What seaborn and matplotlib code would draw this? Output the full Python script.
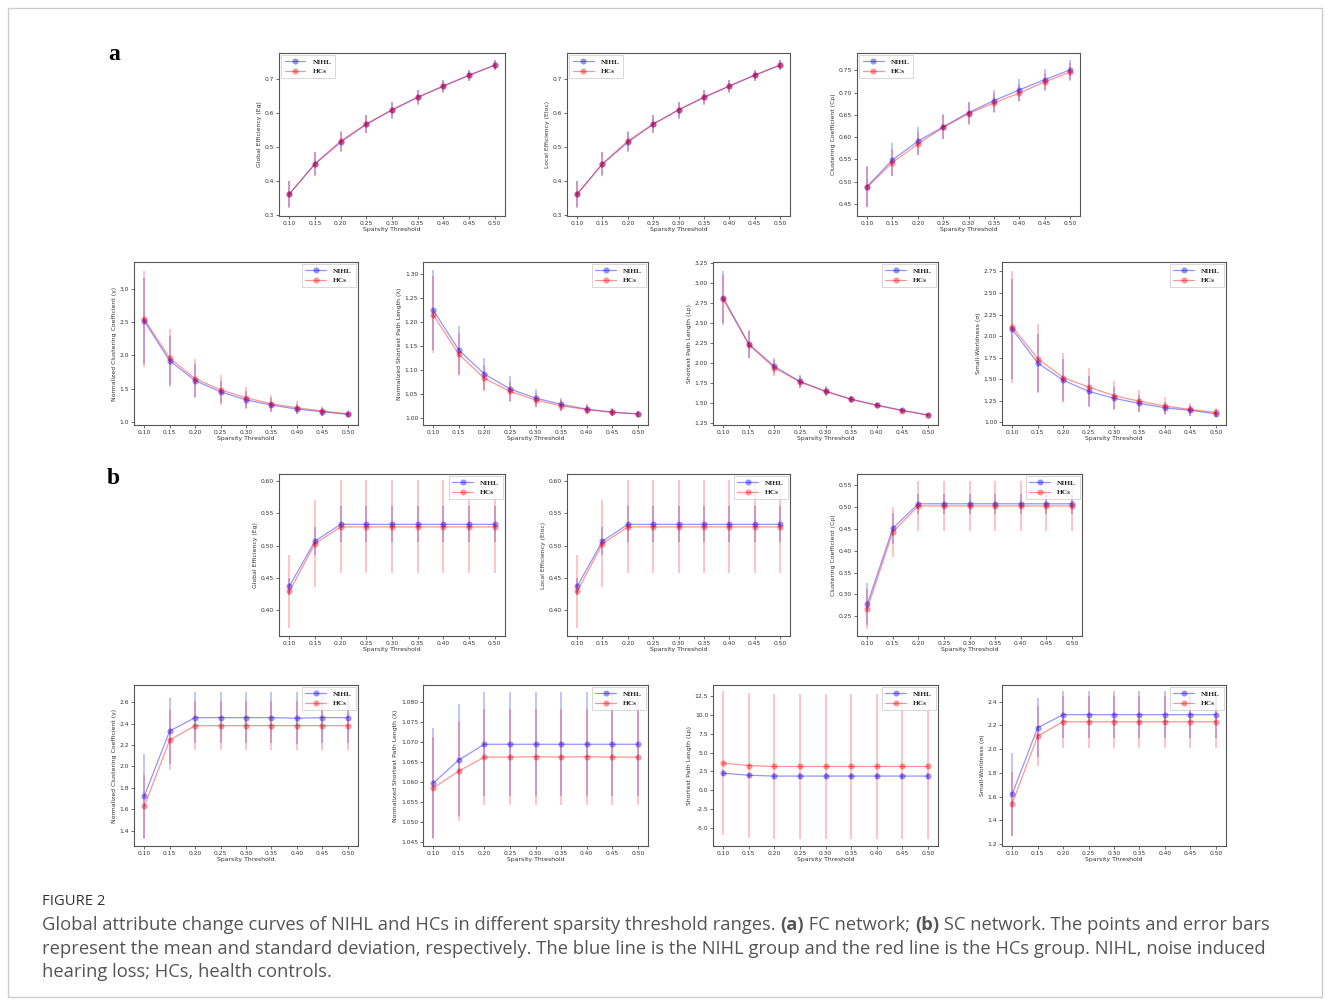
import numpy as np
import pandas as pd
import matplotlib
matplotlib.use("Agg")
import matplotlib.pyplot as plt
import seaborn as sns
from matplotlib.patches import Rectangle
from matplotlib.ticker import FormatStrFormatter

thresholds = [0.10, 0.15, 0.20, 0.25, 0.30, 0.35, 0.40, 0.45, 0.50]

# ---- (a) FC network ----
fc_eg_nihl = [0.360, 0.449, 0.513, 0.566, 0.608, 0.645, 0.678, 0.710, 0.740]
fc_eg_nihl_sd = [0.040, 0.035, 0.030, 0.027, 0.025, 0.021, 0.019, 0.016, 0.014]
fc_eg_hcs = [0.361, 0.450, 0.517, 0.567, 0.609, 0.646, 0.679, 0.711, 0.740]
fc_eg_hcs_sd = [0.038, 0.034, 0.030, 0.026, 0.024, 0.020, 0.018, 0.016, 0.014]

fc_eloc_nihl = [0.360, 0.449, 0.513, 0.566, 0.608, 0.645, 0.678, 0.710, 0.740]
fc_eloc_nihl_sd = [0.040, 0.035, 0.030, 0.027, 0.025, 0.021, 0.019, 0.016, 0.014]
fc_eloc_hcs = [0.361, 0.450, 0.517, 0.567, 0.609, 0.646, 0.679, 0.711, 0.740]
fc_eloc_hcs_sd = [0.038, 0.034, 0.030, 0.026, 0.024, 0.020, 0.018, 0.016, 0.014]

fc_cp_nihl = [0.489, 0.549, 0.591, 0.623, 0.655, 0.682, 0.706, 0.729, 0.751]
fc_cp_nihl_sd = [0.046, 0.037, 0.031, 0.028, 0.025, 0.025, 0.024, 0.023, 0.022]
fc_cp_hcs = [0.488, 0.543, 0.585, 0.622, 0.653, 0.677, 0.699, 0.724, 0.746]
fc_cp_hcs_sd = [0.045, 0.030, 0.026, 0.027, 0.025, 0.022, 0.021, 0.021, 0.020]

fc_gamma_nihl = [2.52, 1.92, 1.62, 1.45, 1.33, 1.25, 1.19, 1.15, 1.11]
fc_gamma_nihl_sd = [0.65, 0.37, 0.25, 0.17, 0.13, 0.10, 0.08, 0.06, 0.04]
fc_gamma_hcs = [2.55, 1.96, 1.65, 1.48, 1.36, 1.27, 1.21, 1.16, 1.12]
fc_gamma_hcs_sd = [0.72, 0.44, 0.30, 0.23, 0.17, 0.13, 0.10, 0.07, 0.05]

fc_lambda_nihl = [1.225, 1.142, 1.092, 1.061, 1.042, 1.029, 1.019, 1.013, 1.009]
fc_lambda_nihl_sd = [0.083, 0.050, 0.034, 0.027, 0.018, 0.013, 0.010, 0.008, 0.006]
fc_lambda_hcs = [1.215, 1.133, 1.083, 1.056, 1.038, 1.026, 1.018, 1.012, 1.009]
fc_lambda_hcs_sd = [0.080, 0.045, 0.027, 0.020, 0.015, 0.011, 0.010, 0.008, 0.006]

fc_lp_nihl = [2.82, 2.24, 1.96, 1.77, 1.65, 1.55, 1.475, 1.41, 1.35]
fc_lp_nihl_sd = [0.34, 0.17, 0.10, 0.08, 0.06, 0.04, 0.03, 0.025, 0.015]
fc_lp_hcs = [2.80, 2.23, 1.94, 1.765, 1.645, 1.545, 1.47, 1.405, 1.35]
fc_lp_hcs_sd = [0.30, 0.17, 0.10, 0.08, 0.06, 0.04, 0.03, 0.025, 0.015]

fc_sigma_nihl = [2.08, 1.69, 1.49, 1.36, 1.28, 1.22, 1.17, 1.14, 1.10]
fc_sigma_nihl_sd = [0.58, 0.34, 0.24, 0.18, 0.13, 0.10, 0.07, 0.06, 0.04]
fc_sigma_hcs = [2.11, 1.74, 1.52, 1.41, 1.31, 1.245, 1.19, 1.15, 1.115]
fc_sigma_hcs_sd = [0.65, 0.40, 0.29, 0.22, 0.17, 0.13, 0.10, 0.07, 0.05]

# ---- (b) SC network ----
sc_eg_nihl = [0.437, 0.507, 0.533, 0.533, 0.533, 0.533, 0.533, 0.533, 0.533]
sc_eg_nihl_sd = [0.013, 0.022, 0.028, 0.028, 0.028, 0.028, 0.028, 0.028, 0.028]
sc_eg_hcs = [0.429, 0.503, 0.529, 0.529, 0.529, 0.529, 0.529, 0.529, 0.529]
sc_eg_hcs_sd = [0.057, 0.067, 0.072, 0.072, 0.072, 0.072, 0.072, 0.072, 0.072]

sc_eloc_nihl = [0.437, 0.507, 0.533, 0.533, 0.533, 0.533, 0.533, 0.533, 0.533]
sc_eloc_nihl_sd = [0.013, 0.022, 0.028, 0.028, 0.028, 0.028, 0.028, 0.028, 0.028]
sc_eloc_hcs = [0.429, 0.503, 0.529, 0.529, 0.529, 0.529, 0.529, 0.529, 0.529]
sc_eloc_hcs_sd = [0.057, 0.067, 0.072, 0.072, 0.072, 0.072, 0.072, 0.072, 0.072]

sc_cp_nihl = [0.277, 0.451, 0.507, 0.507, 0.507, 0.507, 0.507, 0.507, 0.507]
sc_cp_nihl_sd = [0.048, 0.035, 0.023, 0.023, 0.023, 0.023, 0.023, 0.023, 0.023]
sc_cp_hcs = [0.267, 0.443, 0.502, 0.502, 0.502, 0.502, 0.502, 0.502, 0.502]
sc_cp_hcs_sd = [0.045, 0.057, 0.058, 0.058, 0.058, 0.058, 0.058, 0.058, 0.058]

sc_gamma_nihl = [1.72, 2.33, 2.455, 2.455, 2.455, 2.455, 2.45, 2.455, 2.455]
sc_gamma_nihl_sd = [0.40, 0.31, 0.24, 0.24, 0.24, 0.24, 0.24, 0.24, 0.24]
sc_gamma_hcs = [1.625, 2.245, 2.38, 2.38, 2.38, 2.38, 2.38, 2.38, 2.38]
sc_gamma_hcs_sd = [0.29, 0.28, 0.23, 0.23, 0.23, 0.23, 0.23, 0.23, 0.23]

sc_lambda_nihl = [1.0598, 1.0656, 1.0695, 1.0695, 1.0695, 1.0695, 1.0695, 1.0695, 1.0695]
sc_lambda_nihl_sd = [0.0137, 0.0140, 0.0130, 0.0130, 0.0130, 0.0130, 0.0130, 0.0130, 0.0130]
sc_lambda_hcs = [1.0586, 1.0628, 1.0663, 1.0663, 1.0664, 1.0663, 1.0664, 1.0663, 1.0663]
sc_lambda_hcs_sd = [0.0128, 0.0125, 0.0120, 0.0120, 0.0120, 0.0120, 0.0120, 0.0120, 0.0120]

sc_lp_nihl = [2.25, 1.98, 1.87, 1.87, 1.87, 1.87, 1.87, 1.87, 1.87]
sc_lp_nihl_sd = [0.40, 0.35, 0.35, 0.35, 0.35, 0.35, 0.35, 0.35, 0.35]
sc_lp_hcs = [3.60, 3.27, 3.15, 3.15, 3.15, 3.15, 3.15, 3.15, 3.15]
sc_lp_hcs_sd = [9.65, 9.70, 9.70, 9.70, 9.70, 9.70, 9.70, 9.70, 9.70]

sc_sigma_nihl = [1.62, 2.18, 2.29, 2.29, 2.29, 2.29, 2.29, 2.29, 2.29]
sc_sigma_nihl_sd = [0.35, 0.25, 0.20, 0.20, 0.20, 0.20, 0.20, 0.20, 0.20]
sc_sigma_hcs = [1.54, 2.11, 2.23, 2.23, 2.23, 2.23, 2.23, 2.23, 2.23]
sc_sigma_hcs_sd = [0.27, 0.25, 0.22, 0.22, 0.22, 0.22, 0.22, 0.22, 0.22]

W, H = 1330, 1005
fig = plt.figure(figsize=(W / 100, H / 100), dpi=100)
sns.set_style("white")
plt.rcParams['font.family'] = ['DejaVu Sans']

serif = ['Liberation Serif', 'DejaVu Serif']


def px_axes(left, top, right, bottom):
    return fig.add_axes([left / W, 1 - bottom / H, (right - left) / W, (bottom - top) / H])


def panel(rect, nihl, nihl_sd, hcs, hcs_sd, ylabel, ylim, yticks, fmt, loc):
    ax = px_axes(*rect)
    df = pd.DataFrame({
        'threshold': thresholds * 2,
        'value': list(nihl) + list(hcs),
        'group': ['NIHL'] * len(thresholds) + ['HCs'] * len(thresholds),
    })
    pal = {'NIHL': 'blue', 'HCs': 'red'}
    sns.lineplot(data=df, x='threshold', y='value', hue='group', palette=pal,
                 marker='o', markersize=4.4, markeredgewidth=0, linewidth=0.9,
                 alpha=0.42, errorbar=None, ax=ax)
    for name, m, sd in [('NIHL', nihl, nihl_sd), ('HCs', hcs, hcs_sd)]:
        ax.errorbar(thresholds, m, yerr=sd, fmt='none', ecolor=pal[name],
                    elinewidth=1.1, alpha=0.3, capsize=0)
    ax.set_xticks(thresholds)
    ax.xaxis.set_major_formatter(FormatStrFormatter('%.2f'))
    ax.set_yticks(yticks)
    ax.yaxis.set_major_formatter(FormatStrFormatter(fmt))
    ax.set_ylim(*ylim)
    ax.set_xlim(0.08, 0.52)
    ax.set_xlabel('Sparsity Threshold', fontsize=4.4, color='#333333', labelpad=1)
    ax.set_ylabel(ylabel, fontsize=4.4, color='#333333', labelpad=2)
    ax.tick_params(labelsize=4.3, length=2, width=0.5, pad=1.5, colors='#333333',
                   left=True, bottom=True)
    for s in ax.spines.values():
        s.set_color('#555555')
        s.set_linewidth(0.8)
    leg = ax.legend(loc=loc, prop={'family': serif, 'weight': 'bold', 'size': 5.3},
                    handlelength=2.8, handletextpad=1.0, borderpad=0.5, labelspacing=0.4,
                    borderaxespad=0.3, frameon=True, fancybox=False)
    leg.get_frame().set_edgecolor('#bbbbbb')
    leg.get_frame().set_linewidth(0.5)
    return ax


# row 1 (a)
panel((279, 53, 505, 216), fc_eg_nihl, fc_eg_nihl_sd, fc_eg_hcs, fc_eg_hcs_sd,
      'Global Efficiency (Eg)', (0.296, 0.776), [0.3, 0.4, 0.5, 0.6, 0.7], '%.1f', 'upper left')
panel((567, 53, 790, 216), fc_eloc_nihl, fc_eloc_nihl_sd, fc_eloc_hcs, fc_eloc_hcs_sd,
      'Local Efficiency (Eloc)', (0.296, 0.776), [0.3, 0.4, 0.5, 0.6, 0.7], '%.1f', 'upper left')
panel((857, 53, 1080, 216), fc_cp_nihl, fc_cp_nihl_sd, fc_cp_hcs, fc_cp_hcs_sd,
      'Clustering Coefficient (Cp)', (0.423, 0.789), [0.45, 0.50, 0.55, 0.60, 0.65, 0.70, 0.75], '%.2f', 'upper left')
# row 2 (a)
panel((134, 262, 358, 425), fc_gamma_nihl, fc_gamma_nihl_sd, fc_gamma_hcs, fc_gamma_hcs_sd,
      'Normalized Clustering Coefficient (γ)', (0.95, 3.41), [1.0, 1.5, 2.0, 2.5, 3.0], '%.1f', 'upper right')
panel((423, 262, 648, 425), fc_lambda_nihl, fc_lambda_nihl_sd, fc_lambda_hcs, fc_lambda_hcs_sd,
      'Normalized Shortest Path Length (λ)', (0.986, 1.325), [1.00, 1.05, 1.10, 1.15, 1.20, 1.25, 1.30], '%.2f', 'upper right')
panel((713, 262, 938, 425), fc_lp_nihl, fc_lp_nihl_sd, fc_lp_hcs, fc_lp_hcs_sd,
      'Shortest Path Length (Lp)', (1.225, 3.267), [1.25, 1.5, 1.75, 2.0, 2.25, 2.5, 2.75, 3.0, 3.25], '%.2f', 'upper right')
panel((1002, 262, 1226, 425), fc_sigma_nihl, fc_sigma_nihl_sd, fc_sigma_hcs, fc_sigma_hcs_sd,
      'Small-Worldness (σ)', (0.97, 2.86), [1.0, 1.25, 1.5, 1.75, 2.0, 2.25, 2.5, 2.75], '%.2f', 'upper right')
# row 3 (b)
panel((279, 474, 505, 636), sc_eg_nihl, sc_eg_nihl_sd, sc_eg_hcs, sc_eg_hcs_sd,
      'Global Efficiency (Eg)', (0.36, 0.611), [0.40, 0.45, 0.50, 0.55, 0.60], '%.2f', 'upper right')
panel((567, 474, 790, 636), sc_eloc_nihl, sc_eloc_nihl_sd, sc_eloc_hcs, sc_eloc_hcs_sd,
      'Local Efficiency (Eloc)', (0.36, 0.611), [0.40, 0.45, 0.50, 0.55, 0.60], '%.2f', 'upper right')
panel((857, 474, 1082, 636), sc_cp_nihl, sc_cp_nihl_sd, sc_cp_hcs, sc_cp_hcs_sd,
      'Clustering Coefficient (Cp)', (0.205, 0.575), [0.25, 0.30, 0.35, 0.40, 0.45, 0.50, 0.55], '%.2f', 'upper right')
# row 4 (b)
panel((134, 685, 358, 846), sc_gamma_nihl, sc_gamma_nihl_sd, sc_gamma_hcs, sc_gamma_hcs_sd,
      'Normalized Clustering Coefficient (γ)', (1.256, 2.76), [1.4, 1.6, 1.8, 2.0, 2.2, 2.4, 2.6], '%.1f', 'upper right')
panel((423, 685, 648, 846), sc_lambda_nihl, sc_lambda_nihl_sd, sc_lambda_hcs, sc_lambda_hcs_sd,
      'Normalized Shortest Path Length (λ)', (1.0441, 1.0843),
      [1.045, 1.050, 1.055, 1.060, 1.065, 1.070, 1.075, 1.080], '%.3f', 'upper right')
panel((713, 685, 938, 846), sc_lp_nihl, sc_lp_nihl_sd, sc_lp_hcs, sc_lp_hcs_sd,
      'Shortest Path Length (Lp)', (-7.46, 14.02), [-5.0, -2.5, 0.0, 2.5, 5.0, 7.5, 10.0, 12.5], '%.1f', 'upper right')
panel((1002, 685, 1226, 846), sc_sigma_nihl, sc_sigma_nihl_sd, sc_sigma_hcs, sc_sigma_hcs_sd,
      'Small-Worldness (σ)', (1.183, 2.54), [1.2, 1.4, 1.6, 1.8, 2.0, 2.2, 2.4], '%.1f', 'upper right')

# panel letters
fig.text(108 / W, 1 - 60 / H, 'a', family=serif, weight='bold', fontsize=17, color='black')
fig.text(107 / W, 1 - 484 / H, 'b', family=serif, weight='bold', fontsize=17, color='black')

# outer frame
fig.patches.append(Rectangle((8 / W, 1 - 997 / H), (1322 - 8) / W, (997 - 8) / H,
                             transform=fig.transFigure, fill=False,
                             edgecolor='#cccccc', linewidth=1.0))

# caption
cap_font = ['Open Sans', 'DejaVu Sans']
cap_size = 13.2
cap_color = '#555555'
fig.text(42 / W, 1 - 905 / H, 'FIGURE 2', family=cap_font, fontsize=10.6,
         color='#333333', va='baseline')

renderer = fig.canvas.get_renderer()


def text_width(s, weight):
    t = fig.text(0, 0, s + '|', family=cap_font, fontsize=cap_size, weight=weight)
    w1 = t.get_window_extent(renderer).width
    t.remove()
    t = fig.text(0, 0, '|', family=cap_font, fontsize=cap_size, weight=weight)
    w2 = t.get_window_extent(renderer).width
    t.remove()
    return w1 - w2


def caption_line(y_px, parts):
    x = 42.0
    for s, weight in parts:
        fig.text(x / W, 1 - y_px / H, s, family=cap_font, fontsize=cap_size,
                 weight=weight, color=cap_color, va='baseline')
        x += text_width(s, weight)


caption_line(930, [
    ('Global attribute change curves of NIHL and HCs in different sparsity threshold ranges. ', 'normal'),
    ('(a)', 'bold'), (' FC network; ', 'normal'), ('(b)', 'bold'),
    (' SC network. The points and error bars', 'normal')])
caption_line(954, [('represent the mean and standard deviation, respectively. The blue line is the NIHL '
                    'group and the red line is the HCs group. NIHL, noise induced', 'normal')])
caption_line(977, [('hearing loss; HCs, health controls.', 'normal')])

fig.savefig('out.png', dpi=100)
